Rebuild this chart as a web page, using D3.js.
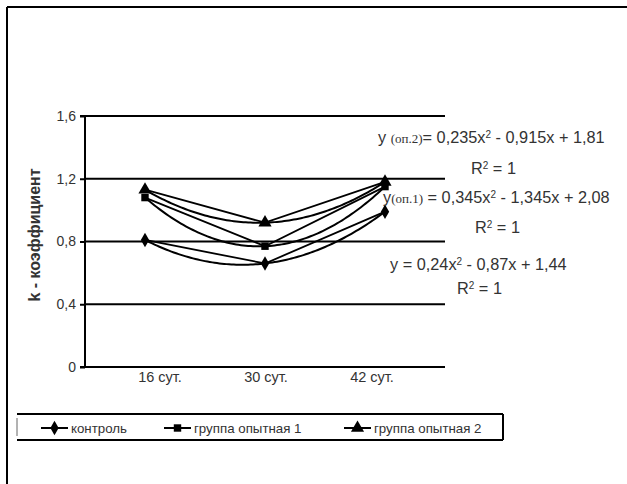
<!DOCTYPE html>
<html><head><meta charset="utf-8">
<script src="https://cdn.jsdelivr.net/npm/d3@7"></script>
<style>
html,body{margin:0;padding:0;background:#fff;}
svg{display:block;font-family:"Liberation Sans",Arial,sans-serif;}
</style></head>
<body>
<svg id="c" width="627" height="484"></svg>
<script>
const categories = ["16 сут.", "30 сут.", "42 сут."];
const seriesNames = ["контроль", "группа опытная 1", "группа опытная 2"];
const control = [0.81, 0.66, 0.99];
const group1 = [1.08, 0.77, 1.15];
const group2 = [1.13, 0.92, 1.18];
const yTicks = [0, 0.4, 0.8, 1.2, 1.6];
const yTickLabels = ["0", "0,4", "0,8", "1,2", "1,6"];
const trendCoef = [[0.24, -0.87, 1.44], [0.345, -1.345, 2.08], [0.235, -0.915, 1.81]];
const yLabel = "k - коэффициент";

const seriesVals = [control, group1, group2];
const markers = [d3.symbolDiamond, d3.symbolSquare, d3.symbolTriangle];
const markerSize = [60, 55, 75];
const textCol = "#333";

const svg = d3.select("#c");
// outer frame (left & top edges visible)
svg.append("line").attr("x1",7).attr("y1",7).attr("x2",627).attr("y2",7).attr("stroke","#000").attr("stroke-width",2);
svg.append("line").attr("x1",7).attr("y1",7).attr("x2",7).attr("y2",484).attr("stroke","#000").attr("stroke-width",2);

const L = 85, R = 445, T = 116, B = 367;
const x = d3.scaleBand().domain(categories).range([L, R]);
const xc = c => x(c) + x.bandwidth() / 2;
const xLab = d3.scalePoint().domain(categories).range([160, 372]);
const y = d3.scaleLinear().domain([0, 1.6]).range([B, T]);

// gridlines
svg.append("g").selectAll("line").data(yTicks.filter(d => d > 0)).join("line")
  .attr("x1", L).attr("x2", R).attr("y1", d => y(d)).attr("y2", d => y(d))
  .attr("stroke", "#000").attr("stroke-width", 1.8);

// y axis
const yAxis = d3.axisLeft(y).tickValues(yTicks).tickFormat((d, i) => yTickLabels[i]).tickSize(5).tickPadding(4);
const gy = svg.append("g").attr("transform", `translate(${L},0)`).call(yAxis);
gy.select(".domain").attr("stroke-width", 2).attr("d", `M-5,${T}H0V${B}H-5`);
gy.selectAll(".tick line").attr("stroke-width", 2);
gy.selectAll("text").attr("font-size", 14).attr("fill", textCol).attr("font-family", "Liberation Sans, Arial, sans-serif");

// x axis
svg.append("line").attr("x1", L - 5).attr("x2", R).attr("y1", B).attr("y2", B).attr("stroke", "#000").attr("stroke-width", 2);
svg.append("g").selectAll("text").data(categories).join("text")
  .attr("x", d => xLab(d)).attr("y", B + 15).attr("text-anchor", "middle")
  .attr("font-size", 14.5).attr("fill", textCol).text(d => d);

// y label
svg.append("text").attr("transform", "translate(40,235) rotate(-90)").attr("text-anchor", "middle")
  .attr("font-size", 16).attr("font-weight", "bold").attr("fill", textCol).text(yLabel);

// trend curves
const tx = d3.scaleLinear().domain([1, 3]).range([xc(categories[0]), xc(categories[2])]);
const line = d3.line().x(d => d[0]).y(d => d[1]);
trendCoef.forEach(c => {
  const pts = d3.range(1, 3.0001, 0.02).map(t => [tx(t), y(c[0]*t*t + c[1]*t + c[2])]);
  svg.append("path").attr("d", line(pts)).attr("fill", "none").attr("stroke", "#000").attr("stroke-width", 2);
});

// series lines and markers
seriesVals.forEach((vals, si) => {
  const pts = vals.map((v, i) => [xc(categories[i]), y(v)]);
  svg.append("path").attr("d", line(pts)).attr("fill", "none").attr("stroke", "#000").attr("stroke-width", 1.8);
  svg.append("g").selectAll("path").data(pts).join("path")
    .attr("transform", d => `translate(${d[0]},${d[1]})`)
    .attr("d", d3.symbol().type(markers[si]).size(markerSize[si])).attr("fill", "#000");
});

// equations
const eq = svg.append("g").attr("font-size", 16.3).attr("fill", textCol);
function eqText(xx, yy, parts) {
  const t = eq.append("text").attr("x", xx).attr("y", yy);
  parts.forEach(p => {
    const s = t.append("tspan").text(p.t);
    if (p.serif) s.attr("font-family", "Liberation Serif, Times New Roman, serif").attr("font-size", 13);
    if (p.sup) s.attr("font-size", 10).attr("dy", -5);
    if (p.down) s.attr("dy", 5);
  });
  return t;
}
eqText(378, 143, [{t:"y "},{t:"(оп.2)",serif:true},{t:"= 0,235x"},{t:"2",sup:true},{t:" - 0,915x + 1,81",down:true}]);
eqText(471, 174, [{t:"R"},{t:"2",sup:true},{t:" = 1",down:true}]);
eqText(383, 203, [{t:"y"},{t:"(оп.1)",serif:true},{t:" = 0,345x"},{t:"2",sup:true},{t:" - 1,345x + 2,08",down:true}]);
eqText(475, 233, [{t:"R"},{t:"2",sup:true},{t:" = 1",down:true}]);
eqText(390, 270, [{t:"y = 0,24x"},{t:"2",sup:true},{t:" - 0,87x + 1,44",down:true}]);
eqText(457, 294, [{t:"R"},{t:"2",sup:true},{t:" = 1",down:true}]);

// legend
const lg = svg.append("g");
lg.append("line").attr("x1",17).attr("x2",503).attr("y1",414).attr("y2",414).attr("stroke","#000").attr("stroke-width",2);
lg.append("line").attr("x1",17).attr("x2",503).attr("y1",440).attr("y2",440).attr("stroke","#000").attr("stroke-width",2);
lg.append("line").attr("x1",503).attr("x2",503).attr("y1",414).attr("y2",440).attr("stroke","#000").attr("stroke-width",2);
lg.append("line").attr("x1",17).attr("x2",17).attr("y1",418).attr("y2",436).attr("stroke","#666").attr("stroke-width",1);
const lx = [41, 164, 344];
seriesNames.forEach((n, i) => {
  const g = lg.append("g").attr("transform", `translate(${lx[i]},428)`);
  g.append("line").attr("x1",0).attr("x2",27).attr("stroke","#000").attr("stroke-width",2);
  g.append("path").attr("transform","translate(13.5,0)").attr("d", d3.symbol().type(markers[i]).size(markerSize[i])).attr("fill","#000");
  g.append("text").attr("x", 30).attr("y", 5).attr("font-size", 13.3).attr("fill", textCol).text(n);
});
</script>
</body></html>
